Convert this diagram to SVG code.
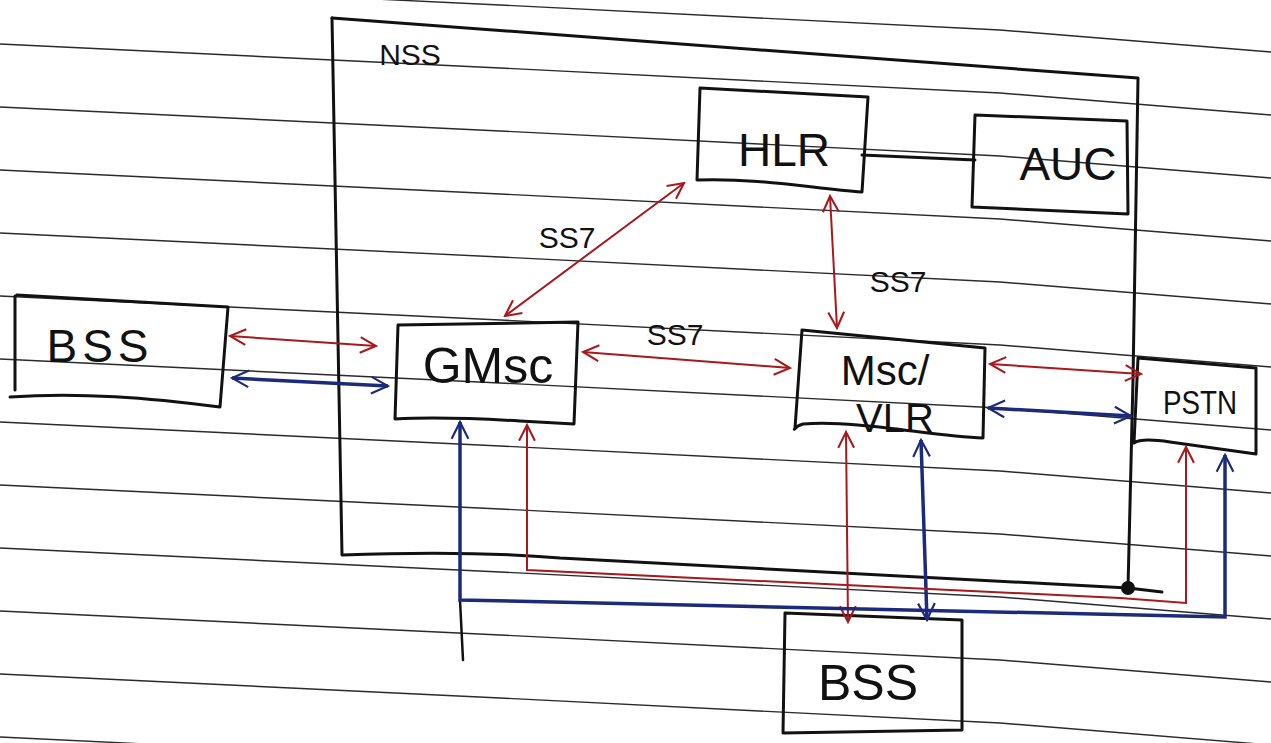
<svg xmlns="http://www.w3.org/2000/svg" width="1271" height="743" viewBox="0 0 1271 743">
<style>
.rule{fill:none;stroke:#2a2a2a;stroke-width:1.4}
.box{fill:none;stroke:#111;stroke-width:3;stroke-linejoin:round;stroke-linecap:round}
.lbl{font-family:"Liberation Sans",Arial,sans-serif;fill:#111;text-anchor:middle}
.red{fill:none;stroke:#a8181c;stroke-width:2;marker-start:url(#ar);marker-end:url(#ar)}
.blue{fill:none;stroke:#1c2a7a;stroke-width:3.5;marker-start:url(#ab);marker-end:url(#ab)}
.blk{fill:none;stroke:#111;stroke-width:3;stroke-linecap:round}
</style>
<defs>
<marker id="ar" viewBox="0 0 12 12" refX="11" refY="6" markerWidth="19" markerHeight="19" markerUnits="userSpaceOnUse" orient="auto-start-reverse"><path d="M1,1 L11,6 L1,11" fill="none" stroke="#a8181c" stroke-width="1.3"/></marker>
<marker id="ab" viewBox="0 0 12 12" refX="11" refY="6" markerWidth="20" markerHeight="20" markerUnits="userSpaceOnUse" orient="auto-start-reverse"><path d="M1,1 L11,6 L1,11" fill="none" stroke="#1c2a7a" stroke-width="1.3"/></marker>
</defs>
<rect width="1271" height="743" fill="#ffffff"/>
<g id="paper-lines">
<polyline class="rule" points="0,-19 500,5 1000,30 1271,52"/>
<polyline class="rule" points="0,44 500,68 1000,93 1271,115"/>
<polyline class="rule" points="0,107 500,131 1000,156 1271,178"/>
<polyline class="rule" points="0,170 500,194 1000,219 1271,241"/>
<polyline class="rule" points="0,233 500,257 1000,282 1271,304"/>
<polyline class="rule" points="0,296 500,320 1000,345 1271,367"/>
<polyline class="rule" points="0,359 500,383 1000,408 1271,430"/>
<polyline class="rule" points="0,422 500,446 1000,471 1271,493"/>
<polyline class="rule" points="0,485 500,509 1000,534 1271,556"/>
<polyline class="rule" points="0,548 500,572 1000,597 1271,619"/>
<polyline class="rule" points="0,611 500,635 1000,660 1271,682"/>
<polyline class="rule" points="0,674 500,698 1000,723 1271,745"/>
<polyline class="rule" points="0,737 500,761 1000,786 1271,808"/>
</g>
<g id="nss">
<path class="box" d="M332,18 L1138,78 L1133,380 L1128,588"/>
<path class="box" d="M332,18 L342,555 C420,552 490,552 560,558 L1128,588 L1162,592"/>
<circle cx="1128" cy="588" r="7" fill="#111"/>
<text class="lbl" x="410" y="65" font-size="30">NSS</text>
</g>
<g id="bss-left">
<path class="box" d="M17,295 L228,307 L220,407 C150,398 80,392 10,397 M15,296 L15,390"/>
<text class="lbl" x="100" y="362" font-size="46" letter-spacing="5">BSS</text>
</g>
<g id="gmsc">
<path class="box" d="M398,325 L578,322 L574,424 L520,421 C470,418 430,417 395,419 Z"/>
<text class="lbl" x="488" y="383" font-size="50">GMsc</text>
</g>
<g id="hlr">
<path class="box" d="M700,88 L868,97 L862,192 C810,188 760,178 697,180 Z"/>
<text class="lbl" x="784" y="166" font-size="46">HLR</text>
</g>
<g id="auc">
<path class="box" d="M975,115 L1127,121 L1128,214 L972,207 Z"/>
<text class="lbl" x="1068" y="180" font-size="46">AUC</text>
</g>
<g id="msc-vlr">
<path class="box" d="M802,330 L985,348 L983,438 C930,436 860,420 803,424 C795,426 793,432 795,428 Z"/>
<text class="lbl" x="885" y="385" font-size="42">Msc/</text>
<text class="lbl" x="895" y="432" font-size="40">VLR</text>
</g>
<g id="pstn">
<path class="box" d="M1138,358 L1256,368 L1256,454 L1170,442 C1150,439 1138,440 1134,443 Z"/>
<text class="lbl" x="1200" y="414" font-size="34" textLength="74" lengthAdjust="spacingAndGlyphs">PSTN</text>
</g>
<g id="bss-bottom">
<path class="box" d="M785,613 L962,620 L962,730 L783,733 Z"/>
<text class="lbl" x="868" y="700" font-size="50">BSS</text>
</g>
<g id="connectors">
<path class="blk" d="M862,155 L975,160"/>
<path class="red" d="M230,336 L376,346"/>
<path class="blue" d="M232,378 L388,386"/>
<path class="red" d="M505,316 L684,183"/>
<path class="red" d="M583,352 L790,368"/>
<path class="red" d="M830,196 L837,328"/>
<path class="red" d="M990,364 L1141,374"/>
<path class="blue" d="M988,408 L1131,416"/>
<path class="red" d="M846,432 L848,622"/>
<path class="blue" d="M921,440 L927,620"/>
<path class="red" d="M527,425 L527,570 L1120,598 L1186,603 L1186,447"/>
<path class="blk" d="M460,600 L463,660" style="stroke-width:2.5"/>
<path class="blue" d="M460,422 L460,600 L1225,617 L1225,455"/>
<text class="lbl" x="567" y="248" font-size="30">SS7</text>
<text class="lbl" x="675" y="345" font-size="30">SS7</text>
<text class="lbl" x="898" y="292" font-size="30">SS7</text>
</g>
</svg>
